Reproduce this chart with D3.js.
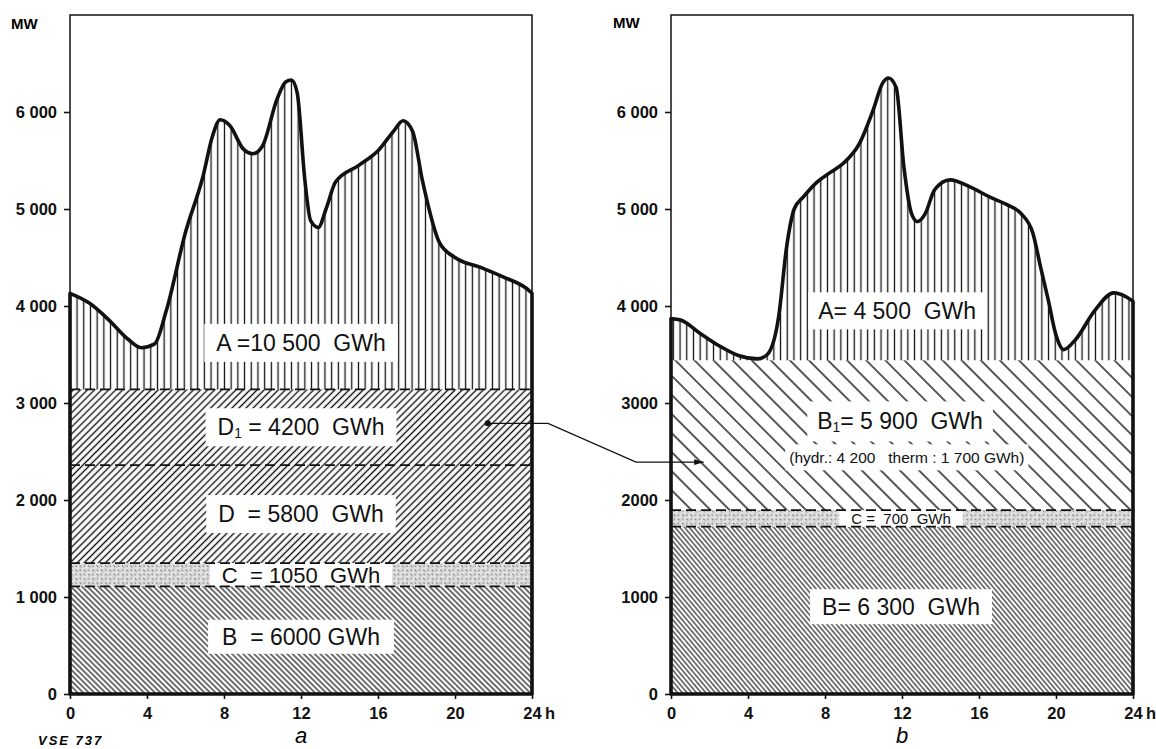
<!DOCTYPE html>
<html lang="de">
<head>
<meta charset="UTF-8" />
<title>Belastungsdiagramme a / b</title>
<script src="https://d3js.org/d3.v7.min.js"></script>
<style>
  body { margin: 0; background: #fff; }
  svg { display: block; font-family: "Liberation Sans", "DejaVu Sans", sans-serif; }
  .lbl { white-space: pre; fill: #111; }
  .axis text { font-family: "Liberation Sans", sans-serif; font-weight: 700; fill: #111; white-space: pre; }
  .axis line { stroke: #111; stroke-width: 1.6px; }
</style>
</head>
<body>
<script>
// hourly load curves (MW)
const hoursA = [0, 1, 2, 3, 3.7, 4.4, 5, 6, 6.9, 7.4, 7.8, 8.3, 9, 9.5, 10, 10.75, 11.2, 11.5, 11.8, 12.2, 12.5, 12.9, 13.3, 13.8, 15, 16, 16.8, 17.3, 17.8, 18.3, 19.2, 20, 21.3, 22.5, 23.9, 24];
const loadA  = [4130, 4030, 3860, 3660, 3570, 3610, 3950, 4760, 5330, 5750, 5920, 5860, 5620, 5570, 5650, 6130, 6310, 6330, 6200, 5300, 4880, 4810, 5000, 5280, 5450, 5600, 5800, 5910, 5800, 5300, 4650, 4500, 4400, 4300, 4150, 4130];
const hoursB = [0, 0.5, 1.5, 2.5, 3.5, 4.5, 5, 5.6, 6, 6.4, 6.9, 7.6, 8.3, 9, 9.8, 10.5, 11, 11.3, 11.7, 12.1, 12.5, 12.8, 13.2, 13.7, 14.5, 15.5, 16.6, 17.5, 18.2, 18.8, 19.2, 19.6, 20, 20.4, 21, 22, 23, 23.6, 24];
const loadB  = [3870, 3855, 3720, 3590, 3490, 3455, 3500, 3900, 4600, 5000, 5130, 5280, 5380, 5480, 5680, 6020, 6300, 6350, 6250, 5430, 4950, 4870, 4950, 5200, 5300, 5230, 5120, 5040, 4950, 4750, 4400, 4060, 3700, 3550, 3650, 3950, 4135, 4100, 4050];

// band limits (MW)
const levelsA = [3140, 2360, 1350, 1110];   // A / D1 / D / C / B
const levelsB = [3440, 1895, 1725];         // A / B1 / C / B

const labelsA = ["A =10 500  GWh", "D\u2081 = 4200  GWh", "D  = 5800  GWh", "C  = 1050  GWh", "B  = 6000 GWh"];
const labelsB = ["A= 4 500  GWh", "B\u2081= 5 900  GWh", "(hydr.: 4 200   therm : 1 700 GWh)", "C =  700  GWh", "B= 6 300  GWh"];

const yTicks = [0, 1000, 2000, 3000, 4000, 5000, 6000];
const yTickLabelsA = ["0", "1 000", "2 000", "3 000", "4 000", "5 000", "6 000"];
const yTickLabelsB = ["0", "1000", "2000", "3000", "4 000", "5 000", "6 000"];
const xTicks = [0, 4, 8, 12, 16, 20, 24];
const xTickLabels = ["0", "4", "8", "12", "16", "20", "24"];

const W = 1156, H = 749;
const svg = d3.select("body").append("svg").attr("width", W).attr("height", H);
const defs = svg.append("defs");

const y = d3.scaleLinear().domain([0, 7000]).range([694, 15]);
const xa = d3.scaleLinear().domain([0, 24]).range([70, 532]);
const xb = d3.scaleLinear().domain([0, 24]).range([671, 1133]);

// hatch patterns
function hatch(id, gap, angle, sw) {
  const p = defs.append("pattern").attr("id", id)
    .attr("patternUnits", "userSpaceOnUse")
    .attr("width", gap).attr("height", 20)
    .attr("patternTransform", `rotate(${angle})`);
  p.append("line").attr("x1", gap / 2).attr("x2", gap / 2).attr("y1", -1).attr("y2", 21)
    .attr("stroke", "#111").attr("stroke-width", sw);
}
hatch("vert", 6.7, 0, 1.3);
hatch("fwd", 5.0, 45, 1.4);
hatch("bkDense", 3.9, -45, 1.2);
hatch("bkDenseB", 3.6, -40, 1.1);
hatch("bkSparse", 13.5, -45, 1.4);

const dots = defs.append("pattern").attr("id", "dots")
  .attr("patternUnits", "userSpaceOnUse").attr("width", 6).attr("height", 6)
  .attr("patternTransform", "rotate(45)");
dots.append("rect").attr("width", 6).attr("height", 6).attr("fill", "#e4e4e4");
dots.append("line").attr("x1", 3).attr("x2", 3).attr("y1", 0).attr("y2", 6).attr("stroke", "#aaa").attr("stroke-width", 0.8);
dots.append("circle").attr("cx", 1).attr("cy", 1.5).attr("r", 0.8).attr("fill", "#555");
dots.append("circle").attr("cx", 4.5).attr("cy", 4.5).attr("r", 0.7).attr("fill", "#777");

defs.append("marker").attr("id", "arrow")
  .attr("viewBox", "0 -5 12 10").attr("refX", 12).attr("refY", 0)
  .attr("markerUnits", "userSpaceOnUse")
  .attr("markerWidth", 14).attr("markerHeight", 8).attr("orient", "auto")
  .append("path").attr("d", "M0,-3.5L12,0L0,3.5Z").attr("fill", "#111");

function addLabel(g, txt, cx, cy, size, boxH, padX) {
  const t = g.append("text").attr("class", "lbl")
    .attr("x", cx).attr("y", cy).attr("text-anchor", "middle")
    .attr("dominant-baseline", "central").attr("font-size", size);
  const parts = txt.split("\u2081");
  t.append("tspan").text(parts[0]);
  if (parts.length > 1) {
    t.append("tspan").attr("font-size", size * 0.6).attr("dy", size * 0.25).text("1");
    t.append("tspan").attr("dy", -size * 0.25).text(parts[1]);
  }
  const bb = t.node().getBBox();
  g.insert("rect", "text").attr("x", bb.x - padX).attr("width", bb.width + 2 * padX)
    .attr("y", cy - boxH / 2).attr("height", boxH).attr("fill", "#fff");
}

function drawPanel(x, hours, load, base, bands, dashes, labels, yLabels) {
  const g = svg.append("g");
  const pts = hours.map((h, i) => [h, load[i]]);

  g.selectAll("rect.band").data(bands).join("rect").attr("class", "band")
    .attr("x", x(0)).attr("width", x(24) - x(0))
    .attr("y", d => y(d.hi)).attr("height", d => y(d.lo) - y(d.hi))
    .attr("fill", d => d.fill);

  const areaA = d3.area().x(d => x(d[0])).y0(y(base)).y1(d => y(d[1])).curve(d3.curveMonotoneX);
  g.append("path").attr("d", areaA(pts)).attr("fill", "url(#vert)");

  const lg = g.append("g");
  labels.forEach(l => addLabel(lg, l.text, x(l.h), y(l.mw), l.size, l.boxH, l.padX));

  g.selectAll("line.dash").data(dashes).join("line").attr("class", "dash")
    .attr("x1", x(0)).attr("x2", x(24)).attr("y1", d => y(d)).attr("y2", d => y(d))
    .attr("stroke", "#111").attr("stroke-width", 1.7).attr("stroke-dasharray", "10,5");

  // thin frame
  g.append("rect").attr("x", x(0)).attr("y", y(7000)).attr("width", x(24) - x(0)).attr("height", y(0) - y(7000))
    .attr("fill", "none").attr("stroke", "#111").attr("stroke-width", 1.5);

  // thick outline of the load area
  const outline = d3.area().x(d => x(d[0])).y0(y(0)).y1(d => y(d[1])).curve(d3.curveMonotoneX);
  g.append("path").attr("d", outline(pts)).attr("fill", "none")
    .attr("stroke", "#111").attr("stroke-width", 3.6).attr("stroke-linejoin", "round");

  const ax = g.append("g").attr("class", "axis").attr("transform", `translate(${x(0)},0)`)
    .call(d3.axisLeft(y).tickValues(yTicks).tickSize(6).tickPadding(7).tickFormat((d, i) => yLabels[i]));
  ax.select(".domain").remove();
  ax.selectAll("text").attr("font-size", 16.5);

  const bx = g.append("g").attr("class", "axis").attr("transform", `translate(0,${y(0)})`)
    .call(d3.axisBottom(x).tickValues(xTicks).tickSize(5).tickPadding(8).tickFormat((d, i) => xTickLabels[i]));
  bx.select(".domain").remove();
  bx.selectAll("text").attr("font-size", 16.5);
  g.append("text").attr("x", x(24) + 13).attr("y", y(0) + 25)
    .attr("font-size", 16.5).attr("font-weight", 700).attr("fill", "#111").text("h");
  return g;
}

drawPanel(xa, hoursA, loadA, levelsA[0],
  [{ lo: levelsA[1], hi: levelsA[0], fill: "url(#fwd)" },
   { lo: levelsA[2], hi: levelsA[1], fill: "url(#fwd)" },
   { lo: levelsA[3], hi: levelsA[2], fill: "url(#dots)" },
   { lo: 0, hi: levelsA[3], fill: "url(#bkDense)" }],
  levelsA,
  [{ text: labelsA[0], h: 12, mw: 3620, size: 23, boxH: 38, padX: 12 },
   { text: labelsA[1], h: 12, mw: (levelsA[0] + levelsA[1]) / 2, size: 23, boxH: 38, padX: 12 },
   { text: labelsA[2], h: 12, mw: (levelsA[1] + levelsA[2]) / 2, size: 23, boxH: 38, padX: 12 },
   { text: labelsA[3], h: 12, mw: (levelsA[2] + levelsA[3]) / 2, size: 22, boxH: y(levelsA[3]) - y(levelsA[2]), padX: 12 },
   { text: labelsA[4], h: 12, mw: 590, size: 23, boxH: 34, padX: 14 }],
  yTickLabelsA);

drawPanel(xb, hoursB, loadB, levelsB[0],
  [{ lo: levelsB[1], hi: levelsB[0], fill: "url(#bkSparse)" },
   { lo: levelsB[2], hi: levelsB[1], fill: "url(#dots)" },
   { lo: 0, hi: levelsB[2], fill: "url(#bkDenseB)" }],
  levelsB.slice(1),
  [{ text: labelsB[0], h: 11.75, mw: 3950, size: 23, boxH: 37, padX: 10 },
   { text: labelsB[1], h: 11.9, mw: 2810, size: 23, boxH: 40, padX: 10 },
   { text: labelsB[2], h: 12.25, mw: 2440, size: 15.5, boxH: 26, padX: 4 },
   { text: labelsB[3], h: 11.95, mw: (levelsB[1] + levelsB[2]) / 2, size: 15, boxH: y(levelsB[2]) - y(levelsB[1]), padX: 12 },
   { text: labelsB[4], h: 11.95, mw: 900, size: 23, boxH: 35, padX: 12 }],
  yTickLabelsB);

// arrow from D1 (a) to B1 (b)
svg.append("circle").attr("cx", xa(21.7)).attr("cy", y(2790)).attr("r", 3).attr("fill", "#111");
svg.append("path")
  .attr("d", d3.line()([[xa(21.7), y(2790)], [548, y(2790)], [636, y(2390)], [xb(1.7), y(2390)]]))
  .attr("fill", "none").attr("stroke", "#111").attr("stroke-width", 1.3)
  .attr("marker-end", "url(#arrow)");

// titles and units
svg.append("text").attr("x", 11).attr("y", 29).attr("font-size", 15).attr("font-weight", 700).text("MW");
svg.append("text").attr("x", 613).attr("y", 28).attr("font-size", 15).attr("font-weight", 700).text("MW");
svg.append("text").attr("x", xa(12)).attr("y", 743).attr("text-anchor", "middle")
  .attr("font-size", 22).attr("font-style", "italic").text("a");
svg.append("text").attr("x", xb(12)).attr("y", 743).attr("text-anchor", "middle")
  .attr("font-size", 22).attr("font-style", "italic").text("b");
svg.append("text").attr("x", 38).attr("y", 745).attr("font-size", 13).attr("font-style", "italic")
  .attr("font-weight", 700).attr("letter-spacing", 2).text("VSE 737");
</script>
</body>
</html>
